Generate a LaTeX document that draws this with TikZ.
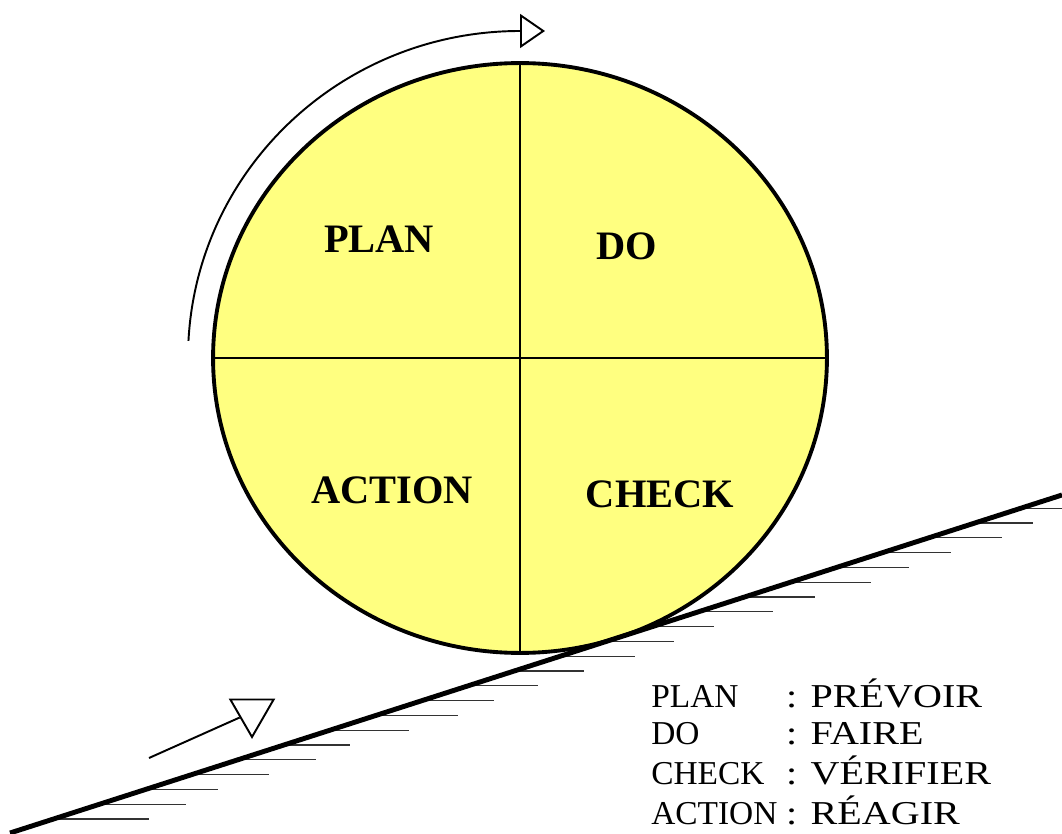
\documentclass[tikz,border=0pt]{standalone}
\usepackage{fontspec}
\setmainfont{Liberation Serif}
\newfontfamily\wideserif[FakeStretch=1.2]{Liberation Serif}
\usetikzlibrary{arrows.meta, positioning, shapes.geometric, calc}
\definecolor{wheelyellow}{RGB}{255,255,128}

\begin{document}
\begin{tikzpicture}[x=0.02cm, y=0.02cm,
    phase/.style={font=\fontsize{23}{27}\selectfont\bfseries},
    hatch/.style={line width=0.75pt, black!80},
    slope/.style={line width=2.8pt},
    divider/.style={line width=1.6pt},
    turn/.style={line width=1.1pt, -{Triangle[open, length=0.5cm, width=0.68cm]}}]
  \useasboundingbox (0,0) rectangle (1062,833);

  % Roue PDCA
  \node[ellipse, draw, line width=2.2pt, fill=wheelyellow, inner sep=0pt, outer sep=0pt,
        minimum width=12.28cm, minimum height=11.8cm] (wheel) at (520,475) {};
  \draw[divider] (wheel.north) -- (wheel.south);
  \draw[divider] (wheel.west) -- (wheel.east);

  % Quadrants
  \node[phase] (plan) at (379,594) {PLAN};
  \node[phase] (do) at (627,587) {DO};
  \node[phase] (action) at (392,343) {ACTION};
  \node[phase] (check) at (660,339) {CHECK};

  % Sens de rotation
  \draw[turn] ([shift={(177:332 and 327)}]wheel.center)
    arc[start angle=177, end angle=90, x radius=332, y radius=327] -- ++(25,0);

  % Pente
  \coordinate (g0) at (10,0);
  \coordinate (g1) at (1062,338);
  \foreach \len [count=\k from 0] in {95,86,72,77,78,66,79,82,72,70,70,75,68,62,75,70,80,72,68,73,58,75}
    \draw[hatch] ($(g0)!{(14+14.8*\k)/338}!(g1)$) -- ++(\len,0);
  \draw[slope] (g0) -- (g1);

  % Sens de montee
  \node[draw, line width=1.1pt, regular polygon, regular polygon sides=3,
        shape border rotate=180, minimum size=1cm, inner sep=0pt] (marker) at (252,121) {};
  \coordinate (tail) at (149,75);
  \draw[line width=1.1pt] (tail) -- (marker);

  % Legende
  \node[anchor=base west, inner sep=0pt, font=\fontsize{19}{21.5}\selectfont] (legend) at (651,126) {%
    \begin{tabular}[t]{@{}l@{\hspace{5pt}}l@{}}
      PLAN & {\wideserif : PRÉVOIR}\\
      DO & {\wideserif : FAIRE}\\
      CHECK & {\wideserif : VÉRIFIER}\\
      ACTION & {\wideserif : RÉAGIR}
    \end{tabular}};
\end{tikzpicture}
\end{document}
